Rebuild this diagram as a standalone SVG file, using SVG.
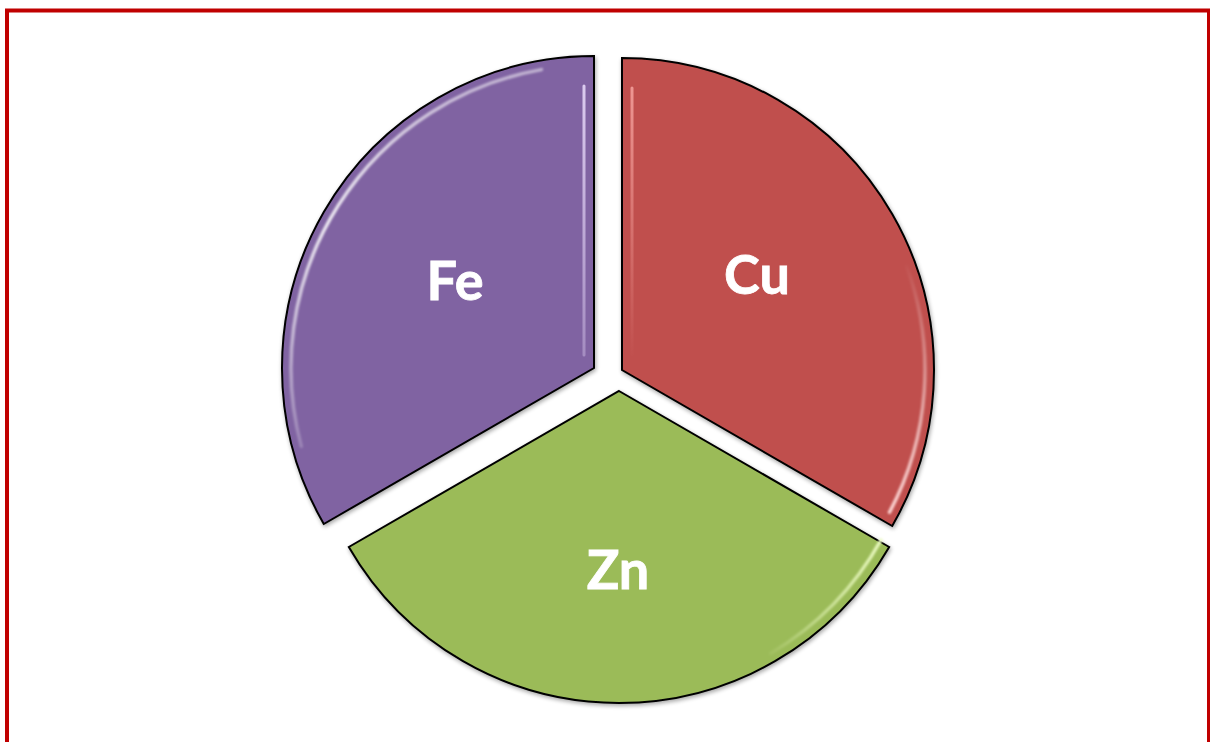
<svg xmlns="http://www.w3.org/2000/svg" width="1210" height="742" viewBox="0 0 1210 742">
<style>
.seg{stroke:#000;stroke-width:2;stroke-linejoin:miter}
.lbl{font-family:Lato,"Open Sans","Liberation Sans",sans-serif;font-weight:bold;font-size:54px;fill:#fff;text-anchor:middle;stroke:#fff;stroke-width:0.8}
.hl{fill:none;stroke-width:3.5;stroke-linecap:round;filter:url(#soft)}
.hv{fill:none;stroke-width:3;stroke-linecap:round}
</style>
<defs>
<filter id="soft" x="-20%" y="-20%" width="140%" height="140%"><feGaussianBlur stdDeviation="1"/></filter>
<filter id="shadow" x="-10%" y="-10%" width="120%" height="120%"><feGaussianBlur in="SourceAlpha" stdDeviation="2"/><feOffset dx="1" dy="2"/><feComponentTransfer><feFuncA type="linear" slope="0.35"/></feComponentTransfer><feMerge><feMergeNode/><feMergeNode in="SourceGraphic"/></feMerge></filter>
<linearGradient id="gFe" gradientUnits="userSpaceOnUse" x1="0" y1="70" x2="0" y2="450"><stop offset="0" stop-color="#fff" stop-opacity="0.5"/><stop offset="0.4" stop-color="#fff" stop-opacity="0.85"/><stop offset="1" stop-color="#fff" stop-opacity="0.2"/></linearGradient>
<linearGradient id="gFeR" gradientUnits="userSpaceOnUse" x1="0" y1="80" x2="0" y2="360"><stop offset="0" stop-color="#e6d8f8" stop-opacity="0.9"/><stop offset="1" stop-color="#e6d8f8" stop-opacity="0.35"/></linearGradient>
<linearGradient id="gCu" gradientUnits="userSpaceOnUse" x1="0" y1="260" x2="0" y2="515"><stop offset="0" stop-color="#fff" stop-opacity="0"/><stop offset="1" stop-color="#ffd8d6" stop-opacity="0.95"/></linearGradient>
<linearGradient id="gCuL" gradientUnits="userSpaceOnUse" x1="0" y1="80" x2="0" y2="360"><stop offset="0" stop-color="#f4a09c" stop-opacity="0.9"/><stop offset="1" stop-color="#f4a09c" stop-opacity="0"/></linearGradient>
<linearGradient id="gZn" gradientUnits="userSpaceOnUse" x1="886" y1="0" x2="760" y2="0"><stop offset="0" stop-color="#f0ffc8" stop-opacity="0.95"/><stop offset="1" stop-color="#f0ffc8" stop-opacity="0"/></linearGradient>
</defs>
<rect x="7" y="10.5" width="1202" height="800" fill="none" stroke="#C00000" stroke-width="4"/>
<g id="fe">
<path class="seg" d="M594,368 L594,56 A312,312 0 0 0 323.8,524 Z" fill="#8064A2" filter="url(#shadow)"/>
<path class="hl" d="M541.4,69.6 A303,303 0 0 0 301.3,446.4" stroke="url(#gFe)"/>
<path class="hv" d="M584,86 L584,355" stroke="url(#gFeR)"/>
<text class="lbl" x="455" y="300">Fe</text>
</g>
<g id="cu">
<path class="seg" d="M622,370 L622,58 A312,312 0 0 1 892.2,526 Z" fill="#C0504D" filter="url(#shadow)"/>
<path class="hl" d="M906.7,266.4 A303,303 0 0 1 889.5,512.3" stroke="url(#gCu)"/>
<path class="hv" d="M632,88 L632,355" stroke="url(#gCuL)"/>
<text class="lbl" x="757" y="294">Cu</text>
</g>
<g id="zn">
<path class="seg" d="M619,391 L889.2,547 A312,312 0 0 1 348.8,547 Z" fill="#9BBB59" filter="url(#shadow)"/>
<path class="hl" d="M881,540 A303,303 0 0 1 770.5,653.4" stroke="url(#gZn)"/>
<text class="lbl" x="618" y="589">Zn</text>
</g>
<g id="connectors"/>
</svg>
